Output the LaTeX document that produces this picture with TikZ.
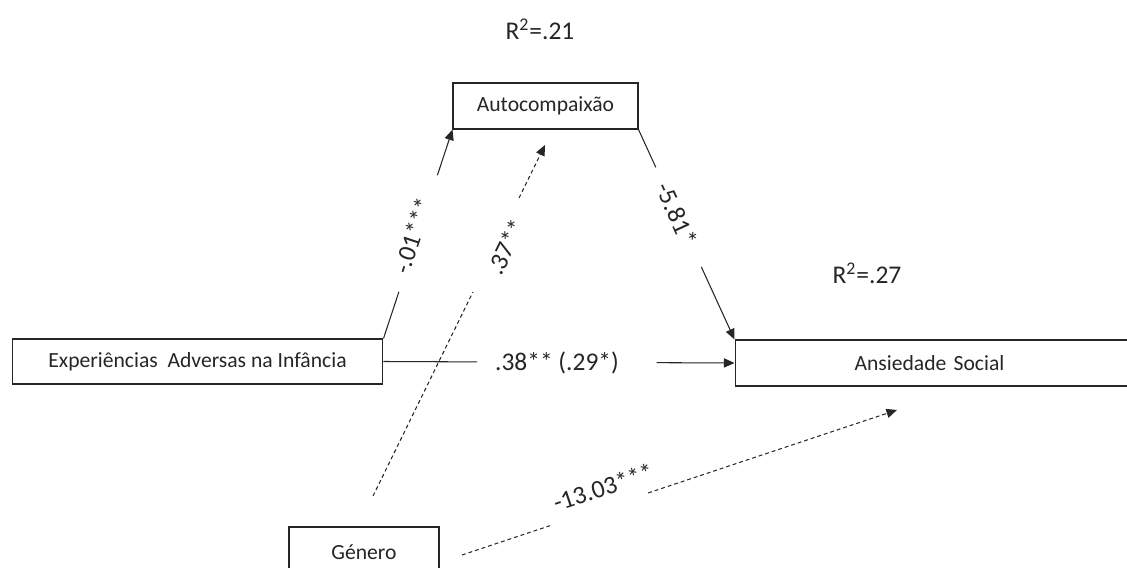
\documentclass[tikz,border=0pt]{standalone}
\usepackage{fontspec}
\setmainfont{Carlito}
\usetikzlibrary{arrows.meta,calc}
\newcommand\boxtxt{\fontsize{12.3}{14}\selectfont}
\newcommand\labtxt{\fontsize{14.5}{17}\selectfont}
\tikzset{
  varbox/.style={draw=black!85, line width=0.6pt, rectangle, inner sep=0pt, text=black!85, font=\boxtxt},
  conn/.style={line width=0.6pt, draw=black!85},
  dconn/.style={conn, dash pattern=on 2.2pt off 1.7pt},
  arr/.style={-{Triangle[length=6pt,width=5.2pt]}},
  lab/.style={text=black!85, font=\labtxt, inner sep=0pt}
}
\begin{document}
\begin{tikzpicture}[x=0.02cm,y=-0.02cm]
\useasboundingbox (0,0) rectangle (1127,568);
% boxes
\node[varbox, minimum width=3.7cm, minimum height=0.92cm] (auto) at (545.5,106) {Autocompaixão};
\node[varbox, minimum width=7.42cm, minimum height=0.9cm] (exp) at (197.5,361.5) {Experiências\hspace{0.45em}Adversas na Infância};
\node[varbox, minimum width=7.88cm, minimum height=0.92cm, text width=7.88cm, align=center] (ans) at (932,363) {\hspace*{-0.1cm}Ansiedade Social};
\node[varbox, minimum width=3cm, minimum height=1cm] (gen) at (364,552) {Género};
% R2 labels
\node[lab] (r1) at (540,29) {R\textsuperscript{2}=.21};
\node[lab] (r2) at (867,273) {R\textsuperscript{2}=.27};
% free ends
\coordinate (g1) at (373,496);
\coordinate (g2) at (545,145);
\coordinate (g3) at (462,555);
\coordinate (g4) at (897,410);
% a path: exp -> auto
\draw[conn] (exp.north east) -- ($(exp.north east)!0.224!(auto.south west)$);
\draw[conn,arr] ($(exp.north east)!0.781!(auto.south west)$) -- (auto.south west);
\node[lab, rotate=71.6] (la) at (413,236) {-.01***};
% b path: auto -> ans
\draw[conn] (auto.south east) -- ($(auto.south east)!0.18!(ans.north west)$);
\draw[conn,arr] ($(auto.south east)!0.654!(ans.north west)$) -- (ans.north west);
\node[lab, rotate=-65.3] (lb) at (677,214) {-5.81*};
% c path: exp -> ans
\draw[conn] (exp.east) -- ($(exp.east)!0.267!(ans.west)$);
\draw[conn,arr] ($(exp.east)!0.778!(ans.west)$) -- (ans.west);
\node[lab] (lc) at (557,363) {.38** (.29*)};
% genero -> auto (dashed)
\draw[dconn] (g1) -- ($(g1)!0.581!(g2)$);
\draw[dconn,arr] ($(g1)!0.849!(g2)$) -- (g2);
\node[lab, rotate=63.9] (ld) at (506,247) {.37**};
% genero -> ans (dashed)
\draw[dconn] (g3) -- ($(g3)!0.202!(g4)$);
\draw[dconn,arr] ($(g3)!0.428!(g4)$) -- (g4);
\node[lab, rotate=18.4] (le) at (603,487) {-13.03***};
\end{tikzpicture}
\end{document}
